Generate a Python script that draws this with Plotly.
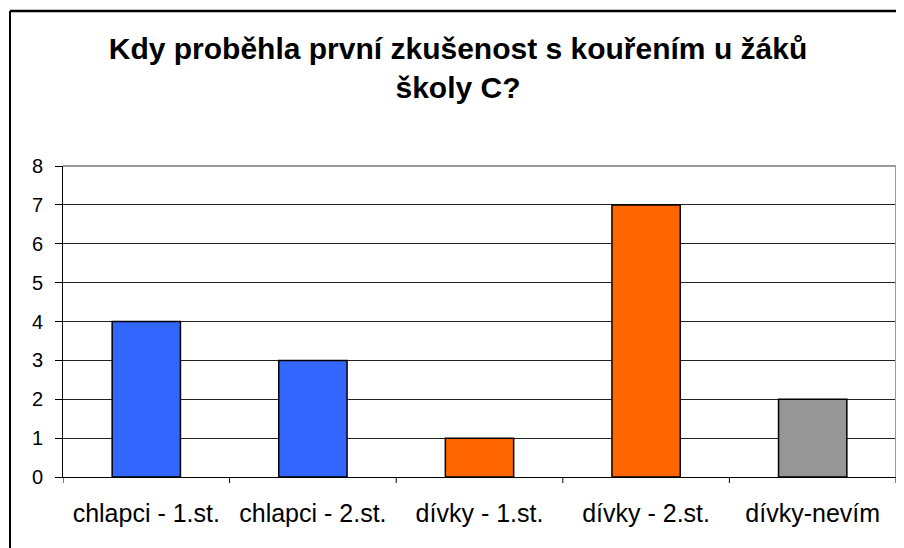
import plotly.graph_objects as go

categories = ["chlapci - 1.st.", "chlapci - 2.st.", "dívky - 1.st.", "dívky - 2.st.", "dívky-nevím"]
values = [4, 3, 1, 7, 2]
bar_colors = ["#3366FF", "#3366FF", "#FF6600", "#FF6600", "#969696"]
y_ticks = [0, 1, 2, 3, 4, 5, 6, 7, 8]

# page body has an 8px margin, so the figure is drawn at (8, 8)
OFF = 8
W, H = 904 - OFF, 548 - OFF
ML, MR, MT, MB = 63 - OFF, 904 - 896, 166 - OFF, 548 - 477
PW, PH = W - ML - MR, H - MT - MB

fig = go.Figure(go.Bar(
    x=list(range(len(categories))), y=values,
    marker=dict(color=bar_colors, line=dict(color="black", width=1.5)),
    width=0.41,
))

font = "Liberation Sans, Arial, sans-serif"
fig.update_layout(
    width=W, height=H,
    margin=dict(l=ML, r=MR, t=MT, b=MB),
    paper_bgcolor="white", plot_bgcolor="white",
    showlegend=False,
    font=dict(family=font, size=20, color="black"),
    title=dict(
        text="<b>Kdy proběhla první zkušenost s kouřením u žáků<br>školy C?</b>",
        x=(458 - OFF) / W, xref="container", xanchor="center",
        y=1 - 51 / H, yanchor="top",
        font=dict(family=font, size=30, color="black"),
    ),
    bargap=0.59,
)
fig.update_xaxes(
    range=[-0.5, 4.5],
    tickmode="array", tickvals=list(range(len(categories))), ticktext=categories,
    tickfont=dict(size=25),
    ticks="", showgrid=False, showline=True, linecolor="black", linewidth=1,
    zeroline=False, ticklabelstandoff=14,
)
fig.update_yaxes(
    range=[0, 8], tickmode="array", tickvals=y_ticks,
    tickfont=dict(size=20),
    ticks="outside", ticklen=7, tickcolor="black", tickwidth=1,
    showgrid=True, gridcolor="#222222", gridwidth=1,
    showline=True, linecolor="black", linewidth=1, zeroline=False,
    ticklabelstandoff=8,
)
# category boundary tick marks below the x axis
for b in [-0.5, 0.5, 1.5, 2.5, 3.5, 4.5]:
    fig.add_shape(type="line", xref="x", yref="paper", x0=b, x1=b, y0=0, y1=-6 / PH,
                  line=dict(color="black", width=1))
# gray plot-area border top & right
fig.add_shape(type="line", xref="paper", yref="paper", x0=0, x1=1, y0=1, y1=1,
              line=dict(color="#999999", width=2))
fig.add_shape(type="line", xref="paper", yref="paper", x0=1, x1=1, y0=0, y1=1,
              line=dict(color="#999999", width=2))
# outer chart border (left and top visible)
bx = (10 - OFF - ML) / PW
by = 1 + (MT - 3) / PH
fig.add_shape(type="line", xref="paper", yref="paper", x0=bx, x1=(W + 20 - ML) / PW, y0=by, y1=by,
              line=dict(color="black", width=2.5), layer="above")
fig.add_shape(type="line", xref="paper", yref="paper", x0=bx, x1=bx, y0=by, y1=-(40 + MB) / PH,
              line=dict(color="black", width=2), layer="above")

fig.write_html("out.html")
